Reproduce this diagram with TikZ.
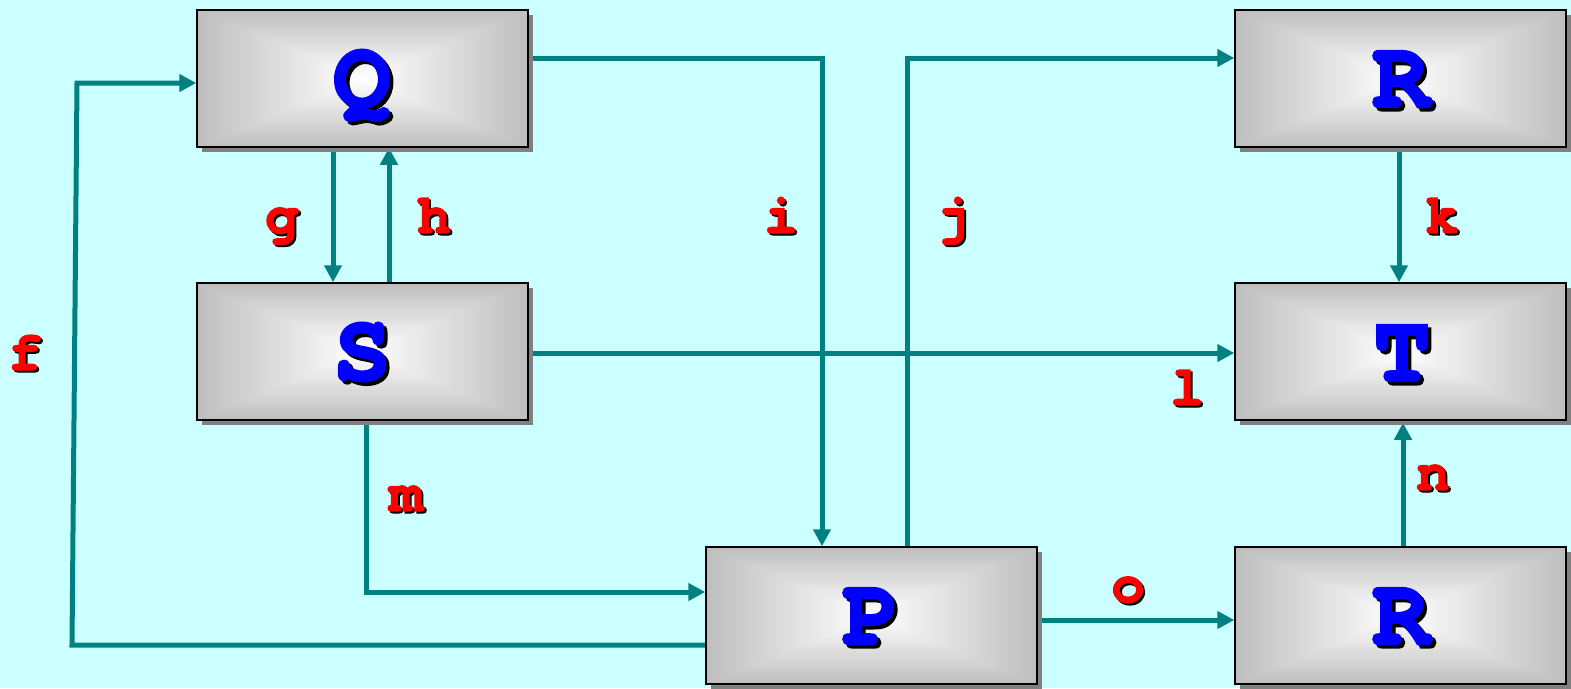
\documentclass[tikz,border=0pt]{standalone}
\usepackage{fontspec}
\newfontfamily\courb{TeX Gyre Cursor}[BoldFeatures={FakeBold=2.5}]
\usetikzlibrary{arrows.meta,shadows}
\definecolor{bgc}{HTML}{CCFFFF}
\definecolor{teal}{HTML}{008080}
\definecolor{bxg}{HTML}{BEBEBE}
\definecolor{shd}{HTML}{808080}
\pgfdeclarelayer{bg}
\pgfsetlayers{bg,main}
\tikzset{
  box/.style={draw=black, line width=1.5pt, minimum width=331pt, minimum height=137pt, inner sep=0pt,
    drop shadow={shadow xshift=5pt, shadow yshift=-5pt, fill=shd, opacity=1},
    path picture={
      \shade[left color=bxg, right color=bxg, middle color=white] (path picture bounding box.north west) rectangle (path picture bounding box.south east);
      \shade[top color=bxg, bottom color=white] (path picture bounding box.north west) -- (path picture bounding box.north east) -- (path picture bounding box.center) -- cycle;
      \shade[top color=white, bottom color=bxg] (path picture bounding box.south west) -- (path picture bounding box.south east) -- (path picture bounding box.center) -- cycle;
    }},
  conn/.style={draw=teal, line width=5pt, -{Triangle[length=17pt,width=17pt]}},
  bigtxt/.style={font=\courb\bfseries\fontsize{96}{96}\selectfont, anchor=base, inner sep=0pt},
  smalltxt/.style={font=\courb\bfseries\fontsize{56}{56}\selectfont, anchor=base, inner sep=0pt},
}
% name, position, colour, style, text, shadow offset
\newcommand\shlab[6]{%
  \node[#4, text=black] at ([shift={(#6,#6)}]#2) {#5};
  \node[#4, text=#3] (#1) at (#2) {#5};}
\begin{document}
\begin{tikzpicture}[x=1pt,y=-1pt]
\begin{pgfonlayer}{bg}
\fill[bgc] (0,0) rectangle (1571,688);
\end{pgfonlayer}
\useasboundingbox (0,0) rectangle (1571,688);
% boxes
\node[box] (Q) at (362.5,78.5) {};
\node[box] (S) at (362.5,351.5) {};
\node[box] (P) at (871.5,615.5) {};
\node[box] (R1) at (1400.5,78.5) {};
\node[box] (T) at (1400.5,351.5) {};
\node[box] (R2) at (1400.5,615.5) {};
\shlab{tQ}{362,107}{blue}{bigtxt}{Q}{3.5}
\shlab{tS}{362,380}{blue}{bigtxt}{S}{3.5}
\shlab{tP}{871,644}{blue}{bigtxt}{P}{3.5}
\shlab{tR1}{1401,107}{blue}{bigtxt}{R}{3.5}
\shlab{tT}{1402,381}{blue}{bigtxt}{T}{3.5}
\shlab{tR2}{1401,644}{blue}{bigtxt}{R}{3.5}
% connectors
\begin{pgfonlayer}{bg}
\draw[conn] ([shift={(0,29.5)}]P.west) -- (72,645) -- (77,83) -- ([shift={(0,4.5)}]Q.west);
\draw[conn] ([shift={(-29.5,0)}]Q.south) -- ([shift={(-29.5,0)}]S.north);
\draw[conn] ([shift={(26.5,0)}]S.north) -- ([shift={(26.5,0)}]Q.south);
\draw[conn] ([shift={(0,-20.5)}]Q.east) -- (822,58) -- ([shift={(-49.5,0)}]P.north);
\draw[conn] ([shift={(35.5,0)}]P.north) -- (907,58) -- ([shift={(0,-20.5)}]R1.west);
\draw[conn] ([shift={(-1.5,0)}]R1.south) -- ([shift={(-1.5,0)}]T.north);
\draw[conn] ([shift={(0,1.5)}]S.east) -- ([shift={(0,1.5)}]T.west);
\draw[conn] ([shift={(3.5,0)}]S.south) -- (366,592) -- ([shift={(0,-23.5)}]P.west);
\draw[conn] ([shift={(0,4.5)}]P.east) -- ([shift={(0,4.5)}]R2.west);
\draw[conn] ([shift={(2.5,0)}]R2.north) -- ([shift={(2.5,2)}]T.south);
\end{pgfonlayer}
% labels
\shlab{lf}{25,370}{red}{smalltxt}{f}{2}
\shlab{lg}{282,233}{red}{smalltxt}{g}{2}
\shlab{lh}{434,233}{red}{smalltxt}{h}{2}
\shlab{li}{781,233}{red}{smalltxt}{i}{2}
\shlab{lj}{953,233}{red}{smalltxt}{j}{2}
\shlab{lk}{1442,233}{red}{smalltxt}{k}{2}
\shlab{ll}{1187,405}{red}{smalltxt}{l}{2}
\shlab{lm}{406,511}{red}{smalltxt}{m}{2}
\shlab{ln}{1433,490}{red}{smalltxt}{n}{2}
\shlab{lo}{1128,602}{red}{smalltxt}{o}{2}
\end{tikzpicture}
\end{document}
